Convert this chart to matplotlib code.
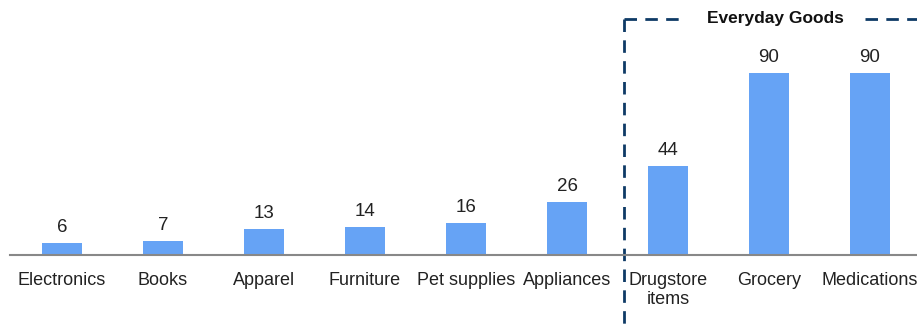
import matplotlib.pyplot as plt
import matplotlib.transforms as mtransforms

categories = ["Electronics", "Books", "Apparel", "Furniture", "Pet supplies",
              "Appliances", "Drugstore\nitems", "Grocery", "Medications"]
values = [6, 7, 13, 14, 16, 26, 44, 90, 90]

plt.rcParams['font.family'] = ['Liberation Sans', 'DejaVu Sans']

fig = plt.figure(figsize=(9.17, 3.27), dpi=100)
ax = fig.add_axes([10 / 917, 72 / 327, 907 / 917, 255 / 327])

x = range(len(categories))
ax.bar(x, values, width=0.4, color="#66a3f5", zorder=2)
for xi, v in zip(x, values):
    ax.text(xi, v + 3.5, str(v), ha="center", va="bottom", fontsize=13.5, color="#222222")

ax.set_xlim(-0.515, 8.465)
ax.set_ylim(0, 126)
ax.set_xticks(list(x))
ax.set_xticklabels(categories, fontsize=13, color="#222222", linespacing=1.2)
ax.tick_params(axis="x", length=0, pad=12)
ax.set_yticks([])
for s in ["top", "right", "left"]:
    ax.spines[s].set_visible(False)
ax.spines["bottom"].set_color("#888888")
ax.spines["bottom"].set_linewidth(1.5)

# dashed "Everyday Goods" bracket
navy = "#0e3a66"
tr = mtransforms.blended_transform_factory(ax.transData, fig.transFigure)
top = 1 - 19 / 327
dash = dict(color=navy, lw=2, linestyle=(0, (4.5, 3)), transform=tr, clip_on=False)
ax.plot([5.56, 5.56], [top, 0], **dash)
ax.plot([5.56, 6.12], [top, top], **dash)
ax.plot([7.95, 8.6], [top, top], **dash)
ax.text(7.06, top, "Everyday Goods", transform=tr, ha="center", va="center",
        fontsize=12.5, fontweight="bold", color="#111111")

fig.savefig("out.png", dpi=100)
